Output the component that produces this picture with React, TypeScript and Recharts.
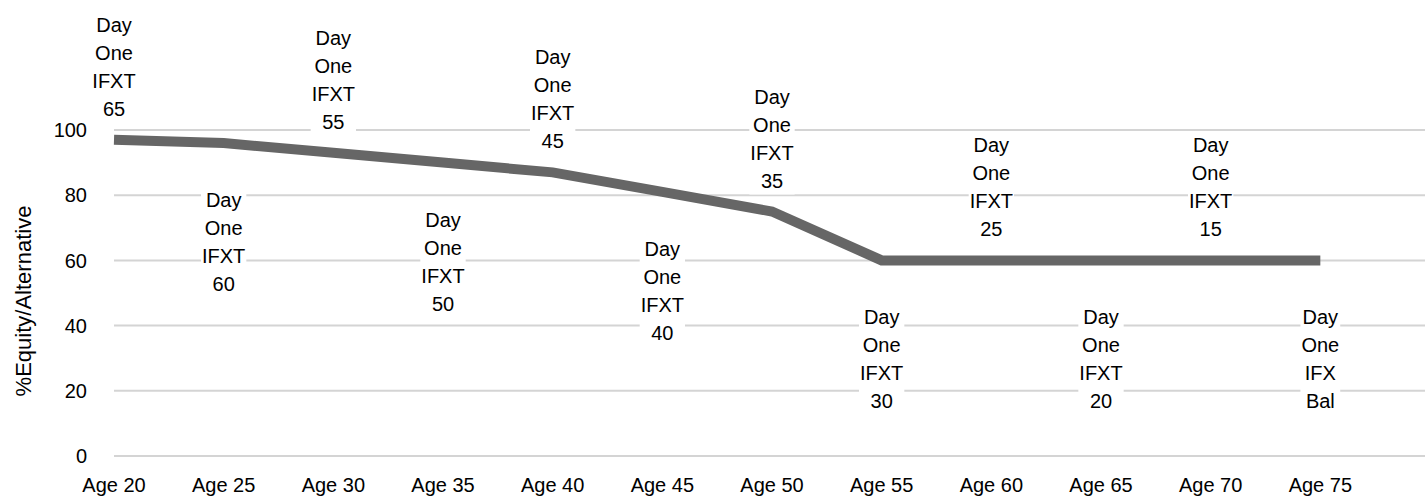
import React from 'react';
import { LineChart, Line, XAxis, YAxis, CartesianGrid, LabelList } from 'recharts';

const ages = ['Age 20', 'Age 25', 'Age 30', 'Age 35', 'Age 40', 'Age 45', 'Age 50', 'Age 55', 'Age 60', 'Age 65', 'Age 70', 'Age 75'];
const equity = [97, 96, 93, 90, 87, 81, 75, 60, 60, 60, 60, 60];
const funds = ['Day One IFXT 65', 'Day One IFXT 60', 'Day One IFXT 55', 'Day One IFXT 50', 'Day One IFXT 45', 'Day One IFXT 40', 'Day One IFXT 35', 'Day One IFXT 30', 'Day One IFXT 25', 'Day One IFXT 20', 'Day One IFXT 15', 'Day One IFX Bal'];
const yTicks = [0, 20, 40, 60, 80, 100];

const FONT = "'Liberation Sans', Arial, sans-serif";

const chartData = ages.map((age, i) => ({ idx: i, age, val: equity[i], fund: funds[i] }));

let ctx: CanvasRenderingContext2D | null = null;
const measure = (s: string) => {
  if (!ctx) ctx = document.createElement('canvas').getContext('2d');
  if (!ctx) return s.length * 11;
  ctx.font = `20px ${FONT}`;
  return ctx.measureText(s).width;
};

// fund name stacked one word per line, boxes alternate above / below the line
const FundLabel = (props: any) => {
  const { x, y, index, value } = props;
  const lines = String(value).split(' ');
  const lh = 28;
  const center = index % 2 === 0 ? y - 73 : y + 99;
  const top = center - (lines.length * lh) / 2;
  const w = Math.max(...lines.map(measure)) + 2;
  return (
    <g>
      <rect x={x - w / 2} y={top} width={w} height={lines.length * lh} fill="#fff" />
      {lines.map((l, i) => (
        <text key={i} x={x} y={top + lh * i + lh / 2 + 7} textAnchor="middle" fontSize={20} fontFamily={FONT} fill="#000">
          {l}
        </text>
      ))}
    </g>
  );
};

const YLabel = (props: any) => {
  const vb = props.viewBox || { y: 130, height: 326 };
  const cy = vb.y + vb.height / 2 + 8;
  return (
    <text x={31} y={cy} transform={`rotate(-90 31 ${cy})`} textAnchor="middle" fontSize={22} fontFamily={FONT} fill="#000">
      %Equity/Alternative
    </text>
  );
};

export default function App() {
  return (
    <div style={{ position: 'absolute', left: 0, top: 0, width: 1425, height: 496, overflow: 'hidden', background: '#fff' }}>
      <LineChart width={1430} height={496} data={chartData} margin={{ top: 130, right: 0, left: 0, bottom: 0 }}>
        <CartesianGrid vertical={false} stroke="#d4d4d4" strokeWidth={2} />
        <XAxis
          dataKey="idx"
          type="number"
          domain={[0, 12]}
          ticks={ages.map((_, i) => i)}
          tickFormatter={(i) => ages[i]}
          interval={0}
          axisLine={false}
          tickLine={false}
          tickSize={0}
          tickMargin={22}
          height={40}
          tick={{ fill: '#000', fontSize: 20, fontFamily: FONT }}
        />
        <YAxis
          domain={[0, 100]}
          ticks={yTicks}
          axisLine={false}
          tickLine={false}
          tickSize={0}
          tickMargin={27}
          width={114}
          tick={{ fill: '#000', fontSize: 20, fontFamily: FONT }}
          label={YLabel}
        />
        <Line type="linear" dataKey="val" stroke="#666666" strokeWidth={10} dot={false} isAnimationActive={false}>
          <LabelList dataKey="fund" content={FundLabel} />
        </Line>
      </LineChart>
    </div>
  );
}
